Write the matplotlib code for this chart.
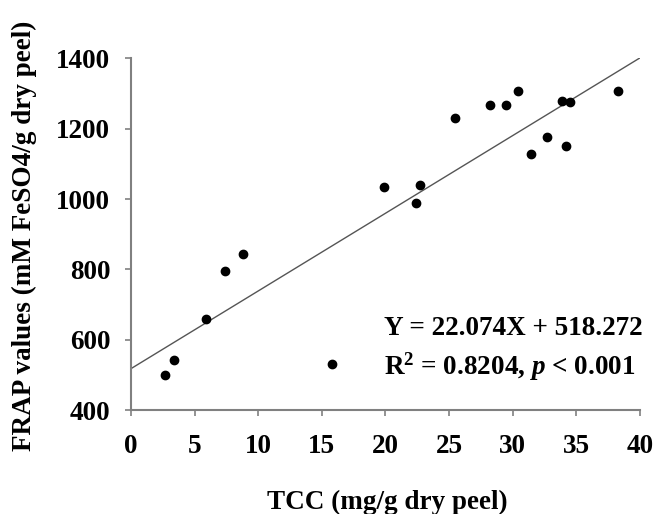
import matplotlib
matplotlib.use("Agg")
import matplotlib.pyplot as plt
import numpy as np

# TCC vs FRAP
tcc = [2.7, 3.4, 5.9, 7.4, 8.8, 15.8, 19.9, 22.4, 22.7, 25.5,
       28.2, 29.5, 30.4, 31.4, 32.7, 33.9, 34.2, 34.5, 38.3]
frap = [500, 544, 659, 796, 844, 531, 1034, 990, 1040, 1229,
        1268, 1266, 1307, 1127, 1177, 1280, 1150, 1275, 1308]

slope = 22.074
intercept = 518.272
fit_x = [0, 40]

xticks = [0, 5, 10, 15, 20, 25, 30, 35, 40]
yticks = [400, 600, 800, 1000, 1200, 1400]

plt.rcParams['font.family'] = ['Liberation Serif', 'DejaVu Serif']
plt.rcParams['font.weight'] = 'bold'
plt.rcParams['mathtext.fontset'] = 'custom'
plt.rcParams['mathtext.rm'] = 'Liberation Serif:bold'
plt.rcParams['mathtext.bf'] = 'Liberation Serif:bold'
plt.rcParams['mathtext.it'] = 'Liberation Serif:bold:italic'

fs = 19.5

fig = plt.figure(figsize=(6.56, 5.14), dpi=100)
ax = fig.add_axes([0.1997, 0.2018, 0.7759, 0.6848])

fit_y = [slope * v + intercept for v in fit_x]
ax.plot(fit_x, fit_y, color='#555555', lw=1.0, zorder=2)
ax.scatter(tcc, frap, s=36, color='black', zorder=3)

ax.set_xlim(0, 40)
ax.set_ylim(400, 1400)
ax.set_xticks(xticks)
ax.set_yticks(yticks)
ax.tick_params(direction='out', length=4, width=1.2, color='#808080',
               labelsize=fs)
ax.tick_params(axis='x', pad=13)
ax.tick_params(axis='y', pad=11)
for lab in ax.get_xticklabels() + ax.get_yticklabels():
    lab.set_fontweight('bold')

for s in ['top', 'right']:
    ax.spines[s].set_visible(False)
for s in ['left', 'bottom']:
    ax.spines[s].set_color('#808080')
    ax.spines[s].set_linewidth(1.5)

fig.text(0.591, 1 - 509 / 514, 'TCC (mg/g dry peel)', ha='center',
         va='baseline', fontsize=fs, fontweight='bold')
fig.text(24 / 656, 1 - 236 / 514, 'FRAP values (mM FeSO4/g dry peel)',
         ha='center', va='center', rotation=90, fontsize=fs,
         fontweight='bold')

# equation, left aligned as in the original
fig.text(384 / 656, 1 - 335 / 514, 'Y = 22.074X + 518.272', ha='left',
         va='baseline', fontsize=fs, fontweight='bold')
fig.text(384 / 656, 1 - 375 / 514, r'R$^{2}$ = 0.8204, $p$ < 0.001',
         ha='left', va='baseline', fontsize=fs, fontweight='bold')

fig.savefig('out.png', dpi=100)
